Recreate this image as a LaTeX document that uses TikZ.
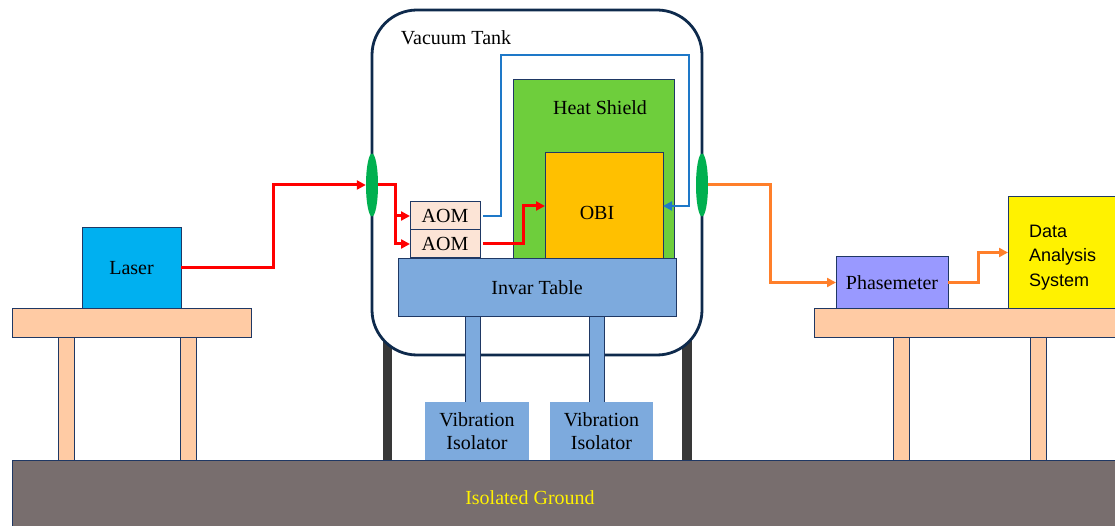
\documentclass[tikz,border=0pt]{standalone}
\usepackage{fontspec}
\setmainfont{Liberation Serif}
\newfontfamily\timesfont{Liberation Serif}
\newfontfamily\dasfont{Liberation Sans}
\usetikzlibrary{arrows.meta, shapes.geometric, positioning}

\definecolor{edgeC}{HTML}{1F3864}
\definecolor{tankC}{HTML}{0E2A4C}
\definecolor{tableC}{HTML}{FFCBA4}
\definecolor{laserC}{HTML}{00B0F0}
\definecolor{lensC}{HTML}{00B050}
\definecolor{aomC}{HTML}{FCE4D6}
\definecolor{shieldC}{HTML}{6ECE3C}
\definecolor{obiC}{HTML}{FFC000}
\definecolor{invarC}{HTML}{7DAADD}
\definecolor{phaseC}{HTML}{9999FF}
\definecolor{groundC}{HTML}{786E6E}
\definecolor{legC}{HTML}{383838}
\definecolor{beamblue}{HTML}{1E78C8}
\definecolor{beamorange}{HTML}{FF7F2A}

\begin{document}
\begin{tikzpicture}[
    x=1pt, y=-1pt,
    box/.style={
        rectangle, anchor=north west,
        inner sep=0pt, outer sep=0pt,
        draw=edgeC, line width=1pt,
        font=\timesfont\fontsize{20}{23}\selectfont
    },
    lbl/.style={inner sep=0pt, font=\timesfont\fontsize{20}{23}\selectfont},
    lens/.style={
        ellipse, inner sep=0pt,
        minimum width=12, minimum height=63,
        fill=lensC, draw=none
    },
    plate/.style={fill=tableC, draw=edgeC, line width=1pt},
    leg/.style={fill=tableC, draw=edgeC, line width=0.6pt},
    beam/.style={
        -{Triangle[length=9pt,width=9pt]},
        line width=3pt
    },
    redbeam/.style={beam, color=red},
    bluebeam/.style={beam, color=beamblue, line width=2.8pt},
    orangebeam/.style={beam, color=beamorange},
]
\useasboundingbox (0,0) rectangle (1115,526);

% TABLES
\draw[leg] (58,337) rectangle (74,460);
\draw[leg] (180,337) rectangle (196,460);
\draw[plate] (12,308) rectangle (251,337);

\draw[leg] (893,337) rectangle (909,460);
\draw[leg] (1030,337) rectangle (1046,460);
\draw[plate] (814,308) rectangle (1125,337);

\node[box, fill=laserC, minimum width=99, minimum height=80] (laser) at (82,228) {Laser};

\node[box, fill=phaseC, minimum width=112, minimum height=51] (phase) at (836,257) {Phasemeter};
\node[box, fill=yellow, minimum width=115, minimum height=111] (das) at (1008,197) {};
\node[align=left, inner sep=0pt, font=\dasfont\fontsize{18}{24.5}\selectfont,
      right=21pt of das.west, yshift=-5pt] (das-txt) {Data\\Analysis\\System};

% VACUUM TANK
\fill[legC] (383,320) rectangle (392,460);
\fill[legC] (682,320) rectangle (692,460);
\node[box, fill=white, draw=tankC, line width=2.8pt, rounded corners=45pt,
      minimum width=330, minimum height=345] (tank) at (372,10) {};
\node[lbl] (tank-lbl) at (456,38) {Vacuum Tank};

\node[box, fill=shieldC, minimum width=161, minimum height=180] (shield) at (513,80) {};
\node[lbl] (shield-lbl) at (600,108) {Heat Shield};
\node[box, fill=obiC, minimum width=118, minimum height=106] (obi) at (545,153) {};
\node[lbl] (obi-lbl) at (597,213) {OBI};

\node[box, fill=aomC, minimum width=70, minimum height=28] (aom1) at (410,202) {AOM};
\node[box, fill=aomC, minimum width=70, minimum height=28, below=0pt of aom1] (aom2) {AOM};

\node[box, fill=invarC, minimum width=278, minimum height=57] (invar) at (398,259) {Invar Table};

% ISOLATORS
\draw[fill=invarC, draw=edgeC, line width=0.8pt] (465,316) rectangle (480,402);
\draw[fill=invarC, draw=edgeC, line width=0.8pt] (589,316) rectangle (604,402);
\node[box, fill=invarC, draw=none, align=center, minimum width=104, minimum height=58] (iso1) at (425,402) {Vibration\\Isolator};
\node[box, fill=invarC, draw=none, align=center, minimum width=103, minimum height=58] (iso2) at (550,402) {Vibration\\Isolator};

% WINDOWS
\node[lens] (lensL) at (372,185) {};
\node[lens] (lensR) at (702,185) {};

% GROUND
\node[box, fill=groundC, minimum width=1115, minimum height=70] (ground) at (12,460) {};
\node[lbl, text=yellow] (ground-lbl) at (530,498) {Isolated Ground};

% BEAMS
\draw[redbeam] (laser.east) -- ++(92,0) |- (lensL.west);
\draw[redbeam] (lensL.east) -- ++(17,0) |- (aom1.west);
\draw[redbeam] (lensL.east) -- ++(17,0) |- (aom2.west);
\draw[redbeam, shorten <=3pt] (aom2.east) -- ++(43,0) |- (obi.west);
\draw[bluebeam, shorten <=3pt] (aom1.east) -- ++(21,0) -- ++(0,-161) -| ([xshift=26pt]obi.east) -- (obi.east);
\draw[orangebeam] (lensR.east) -- ++(62,0) |- (phase.west);
\draw[orangebeam] (phase.east) -- ++(30,0) |- (das.west);

\end{tikzpicture}
\end{document}
